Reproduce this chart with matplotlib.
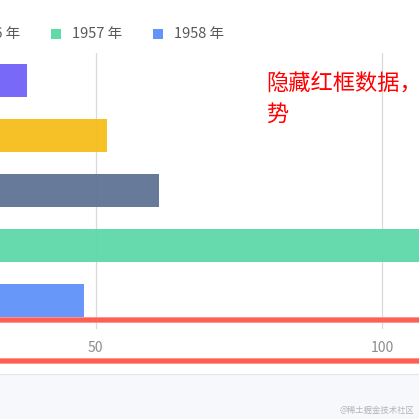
import matplotlib
matplotlib.use("Agg")
import matplotlib.pyplot as plt
from matplotlib.patches import Rectangle
from matplotlib.lines import Line2D

plt.rcParams['font.family'] = ['Noto Sans CJK SC', 'DejaVu Sans']

# ---- data ----
years = ['1954 年', '1955 年', '1956 年', '1957 年', '1958 年']
values = [38.0, 51.9, 61.0, 120.0, 48.0]
colors = ['#6F5EF9', '#F6BD16', '#5D7092', '#5AD8A6', '#5B8FF9']
xticks = [50, 100]
xtick_labels = ['50', '100']

W = H = 419
fig = plt.figure(figsize=(W / 100, H / 100), dpi=100)
fig.patch.set_facecolor('white')

def fx(px):
    return px / W

def fy(py):
    return 1 - py / H

# axes positioned so only part of the chart is visible (cropped view)
ax_left_px, ax_right_px = -190.9, 669.0
ax_top_px, ax_bot_px = 52.5, 328.6
ax = fig.add_axes([fx(ax_left_px), fy(ax_bot_px),
                   (ax_right_px - ax_left_px) / W, (ax_bot_px - ax_top_px) / H])
ax.set_facecolor('none')

ypos = list(range(len(years)))
ax.barh(ypos, values, height=0.6, color=colors, alpha=0.93, zorder=2)
ax.set_xlim(0, 150)
ax.set_ylim(len(years) - 0.5, -0.5)
ax.set_xticks(xticks)
ax.set_xticklabels(xtick_labels)
ax.set_yticks([])
ax.xaxis.grid(True, color='#d9d9d9', linewidth=0.9, zorder=1)
ax.set_axisbelow(True)
for s in ax.spines.values():
    s.set_visible(False)
ax.tick_params(axis='x', length=0, pad=9, labelsize=10, labelcolor='#8c8c8c')

# ---- legend (manual, cropped on the left) ----
pitch = 102
for i, (yr, c) in enumerate(zip(years, colors)):
    cx = 56 + pitch * (i - 3)
    fig.add_artist(Rectangle((fx(cx - 5), fy(34.3 + 5)), fx(10), 10 / H,
                             transform=fig.transFigure, facecolor=c,
                             edgecolor='none', alpha=0.95))
    fig.text(fx(cx + 16), fy(34.3), yr, fontsize=10.5, color='#595959',
             ha='left', va='center')

# ---- red annotation text ----
fig.text(fx(266), fy(84.5), '隐藏红框数据，查看趋', fontsize=16, color='#ff0000',
         ha='left', va='center')
fig.text(fx(266), fy(114.5), '势', fontsize=16, color='#ff0000',
         ha='left', va='center')

# ---- red frame lines ----
for yy in (319.5, 361.3):
    fig.add_artist(Line2D([0, 1], [fy(yy), fy(yy)], transform=fig.transFigure,
                          color='#ff9a92', linewidth=4.3, solid_capstyle='butt'))
    fig.add_artist(Line2D([0, 1], [fy(yy), fy(yy)], transform=fig.transFigure,
                          color='#ff5f52', linewidth=3.0, solid_capstyle='butt'))

# ---- bottom panel ----
fig.add_artist(Rectangle((0, 0), 1, fy(374.3), transform=fig.transFigure,
                         facecolor='#f7f8fc', edgecolor='none'))
fig.add_artist(Line2D([0, 1], [fy(374.3), fy(374.3)], transform=fig.transFigure,
                      color='#e4e5ea', linewidth=0.8))
fig.text(fx(414), fy(410), '@稀土掘金技术社区', fontsize=6, color='#b4b4b4',
         ha='right', va='center')

fig.savefig('out.png', dpi=100)
